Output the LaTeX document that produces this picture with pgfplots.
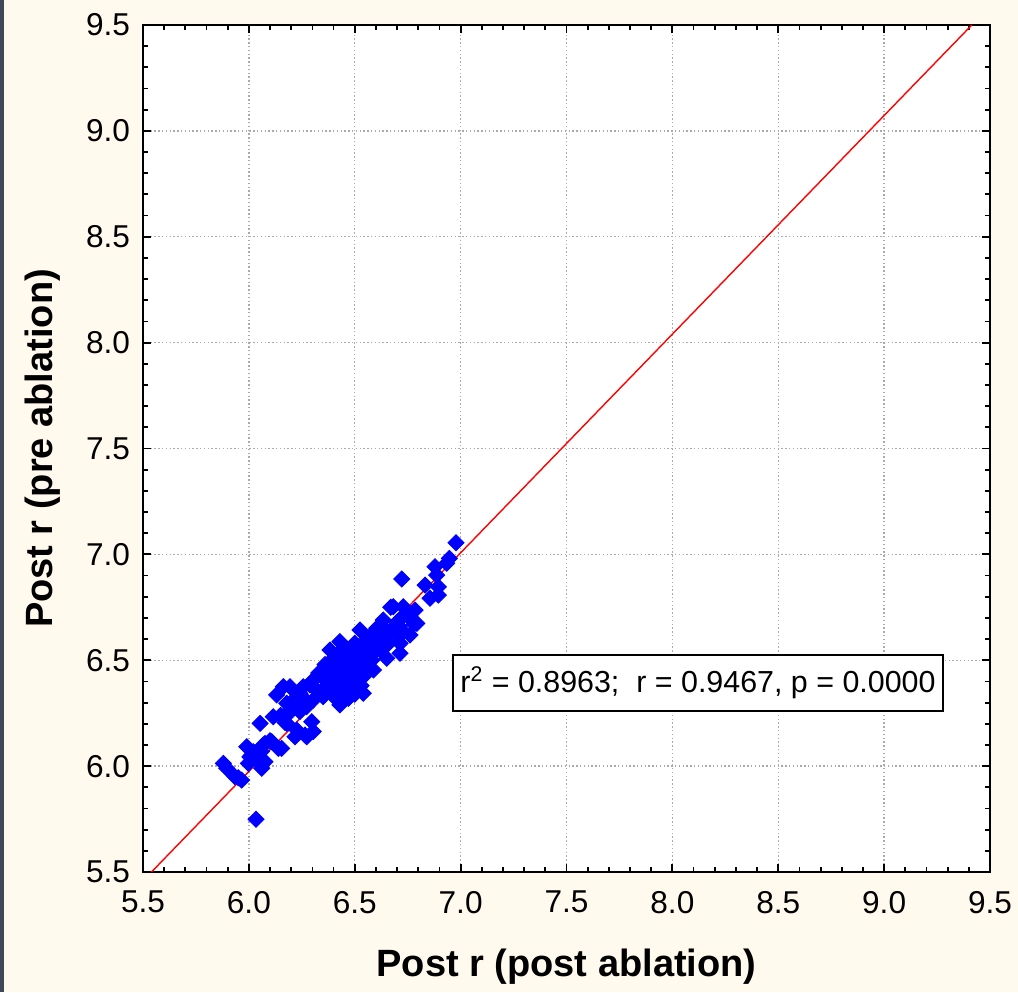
\documentclass[border=0pt]{standalone}
\usepackage{pgfplots}
\pgfplotsset{compat=1.18}
\usepackage{fontspec}
\setmainfont{Liberation Sans}
\definecolor{bgcream}{RGB}{255,249,238}
\definecolor{strip}{RGB}{62,72,90}
\definecolor{gridgray}{RGB}{170,170,170}
\begin{document}
\begin{tikzpicture}
\fill[bgcream] (0,0) rectangle (509pt,496pt);
\fill[strip] (0,0) rectangle (2pt,496pt);
\path[use as bounding box] (0,0) rectangle (509pt,496pt);
\begin{axis}[
  at={(71.5pt,60pt)}, anchor=south west,
  scale only axis, width=423.5pt, height=423.5pt,
  xmin=5.5, xmax=9.5, ymin=5.5, ymax=9.5,
  xtick distance=0.5, ytick distance=0.5,
  minor tick num=4,
  tick align=inside,
  major tick length=4pt, minor tick length=2.5pt,
  every tick/.style={black, line width=0.9pt},
  axis line style={black, line width=1.2pt},
  axis background/.style={fill=white},
  xmajorgrids, ymajorgrids,
  major grid style={gridgray, line width=0.7pt, dash pattern=on 0.7pt off 1.2pt},
  /pgf/number format/assume math mode=true,
  /pgf/number format/fixed, /pgf/number format/fixed zerofill, /pgf/number format/precision=1,
  tick label style={font=\fontsize{15.8}{18}\selectfont},
  xticklabel style={yshift=-6pt},
  yticklabel style={xshift=-3pt},
  xlabel={Post r (post ablation)},
  ylabel={Post r (pre ablation)},
  xlabel style={at={(axis description cs:0.5,-0.1235)}, anchor=base, font=\fontsize{19}{22}\selectfont\bfseries},
  ylabel style={at={(axis description cs:-0.1074,0.5)}, anchor=base, rotate=0, font=\fontsize{19}{22}\selectfont\bfseries},
  clip=true,
]
\addplot[only marks, mark=square*, mark size=2.85pt, mark options={rotate=45, fill=blue, draw=blue}, color=blue] table {
x y
5.879 6.013
5.895 5.990
5.934 5.950
5.966 5.934
5.950 5.945
6.034 5.749
5.990 6.092
6.021 6.068
6.005 6.044
6.037 6.029
6.076 6.021
6.061 5.990
5.998 6.013
6.013 6.052
6.068 6.100
6.076 6.107
6.108 6.115
6.139 6.084
6.155 6.084
6.053 6.202
6.115 6.233
6.179 6.202
6.171 6.206
6.226 6.171
6.218 6.139
6.273 6.139
6.265 6.147
6.304 6.163
6.297 6.210
6.131 6.336
6.163 6.375
6.194 6.375
6.179 6.297
6.194 6.265
6.241 6.257
6.273 6.281
6.210 6.312
6.241 6.344
6.257 6.375
6.289 6.383
6.304 6.312
6.320 6.360
6.351 6.328
6.304 6.407
6.336 6.438
6.367 6.399
6.430 6.399
6.478 6.391
6.509 6.375
6.399 6.375
6.462 6.344
6.540 6.344
6.470 6.320
6.430 6.289
6.399 6.454
6.446 6.438
6.509 6.438
6.540 6.422
6.588 6.454
6.399 6.509
6.430 6.501
6.462 6.517
6.493 6.485
6.540 6.501
6.383 6.548
6.430 6.588
6.517 6.564
6.556 6.548
6.525 6.643
6.588 6.611
6.604 6.548
6.635 6.596
6.651 6.509
6.714 6.580
6.714 6.533
6.604 6.651
6.635 6.690
6.682 6.753
6.729 6.753
6.745 6.714
6.785 6.737
6.793 6.674
6.729 6.635
6.761 6.619
6.722 6.884
6.832 6.855
6.895 6.847
6.855 6.793
6.895 6.808
6.879 6.942
6.887 6.902
6.934 6.958
6.947 6.981
6.978 7.055
6.670 6.750
6.710 6.660
6.780 6.670
6.450 6.480
6.480 6.520
6.500 6.460
6.520 6.500
6.550 6.520
6.570 6.550
6.600 6.580
6.620 6.600
6.440 6.420
6.420 6.450
6.470 6.400
6.520 6.420
6.550 6.470
6.580 6.500
6.620 6.550
6.650 6.620
6.680 6.650
6.700 6.680
6.720 6.700
6.750 6.720
6.700 6.620
6.660 6.580
6.380 6.420
6.350 6.360
6.400 6.330
6.440 6.360
6.480 6.370
6.500 6.340
6.530 6.380
6.360 6.480
6.330 6.440
6.270 6.310
6.250 6.300
6.220 6.280
6.200 6.260
6.150 6.240
6.100 6.120
6.060 6.070
6.030 6.060
6.460 6.550
6.410 6.520
6.560 6.600
6.600 6.640
6.630 6.660
6.500 6.580
6.590 6.620
6.450 6.560
6.530 6.550
};
\addplot[red, line width=0.7pt] coordinates {(5.54,5.5) (9.414,9.5)};
\node[draw=black, line width=1.2pt, fill=white, minimum width=245pt, minimum height=28pt, inner sep=0pt,
  font=\fontsize{15.2}{18}\selectfont] at (axis cs:8.121,6.393)
  {r\textsuperscript{2} = 0.8963;\ \ r = 0.9467, p = 0.0000};
\end{axis}
\end{tikzpicture}
\end{document}
